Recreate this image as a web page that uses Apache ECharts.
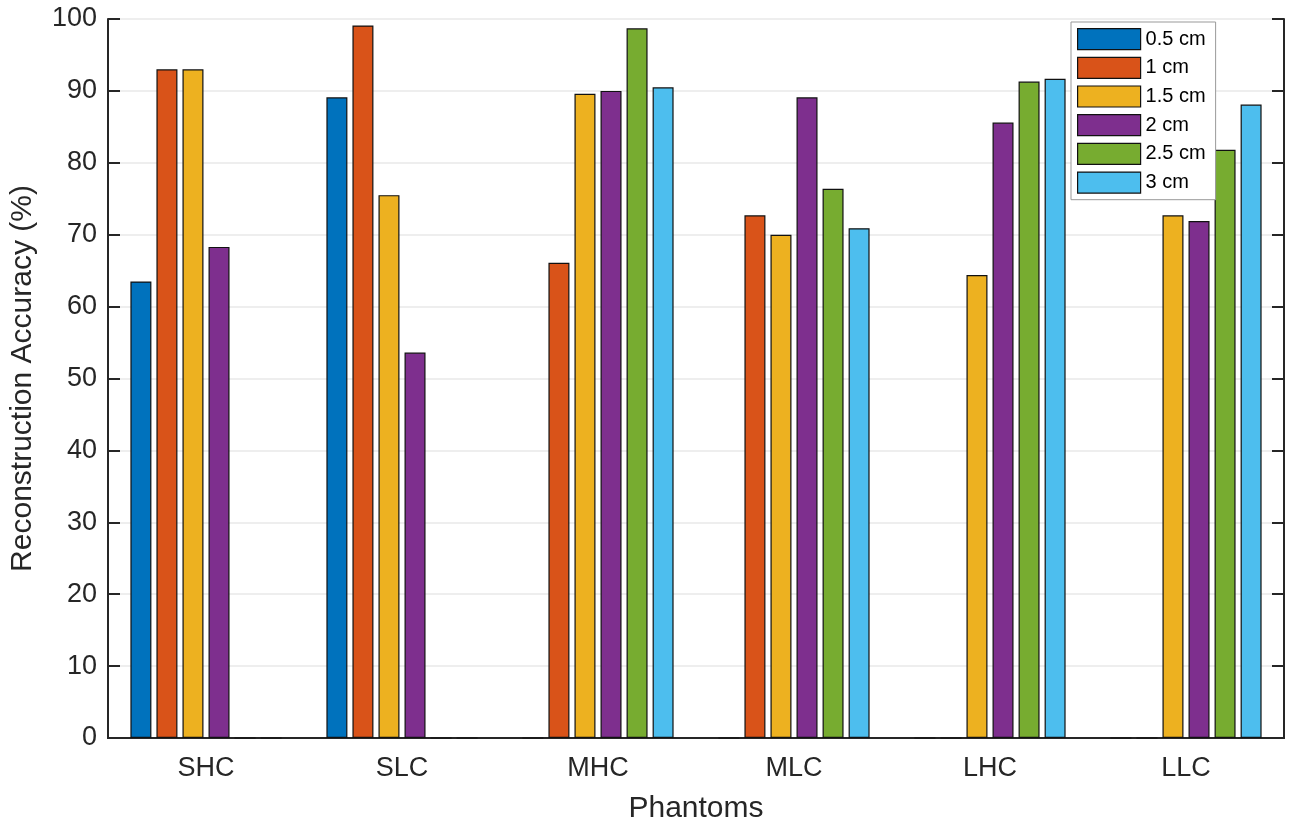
<!DOCTYPE html>
<html>
<head>
<meta charset="utf-8">
<script src="https://cdn.jsdelivr.net/npm/echarts@6/dist/echarts.min.js"></script>
<style>html,body{margin:0;padding:0;background:#fff;}#c{width:1290px;height:825px;}</style>
</head>
<body>
<div id="c"></div>
<script>
var categories = ['SHC', 'SLC', 'MHC', 'MLC', 'LHC', 'LLC'];
var seriesNames = ['0.5 cm', '1 cm', '1.5 cm', '2 cm', '2.5 cm', '3 cm'];
var s05 = [63.5, 89.1, 0, 0, 0, 0];
var s10 = [93.0, 99.1, 66.1, 72.7, 0, 0];
var s15 = [93.0, 75.5, 89.6, 70.0, 64.4, 72.7];
var s20 = [68.3, 53.6, 90.0, 89.1, 85.6, 71.9];
var s25 = [0, 0, 98.7, 76.4, 91.3, 81.8];
var s30 = [0, 0, 90.5, 70.9, 91.7, 88.1];
var yTicks = [0, 10, 20, 30, 40, 50, 60, 70, 80, 90, 100];

var colors = ['#0072BD', '#D95319', '#EDB120', '#7E2F8E', '#77AC30', '#4DBEEE'];
var allData = [s05, s10, s15, s20, s25, s30];
var txt = '#262626';
var font = 'Liberation Sans, Arial, sans-serif';

var series = allData.map(function (d, i) {
  return {
    name: seriesNames[i],
    type: 'bar',
    data: d,
    barWidth: 21,
    barGap: '24%',
    itemStyle: { color: colors[i], borderColor: '#111', borderWidth: 1.2 },
    emphasis: { disabled: true }
  };
});

var chart = echarts.init(document.getElementById('c'), null, { renderer: 'canvas' });
chart.setOption({
  animation: false,
  backgroundColor: '#fff',
  textStyle: { fontFamily: font },
  grid: { left: 108, top: 19, right: 6, bottom: 87, containLabel: false, outerBoundsMode: 'none' },
  legend: {
    orient: 'vertical',
    left: 1071, top: 22,
    padding: [6, 10, 6, 6],
    icon: 'rect',
    itemWidth: 63, itemHeight: 21, itemGap: 6.5,
    backgroundColor: '#fff',
    borderColor: '#999', borderWidth: 1,
    textStyle: { fontSize: 20, color: '#000', fontFamily: font },
    itemStyle: { borderColor: '#111', borderWidth: 1.2 },
    data: seriesNames
  },
  xAxis: [{
    type: 'category',
    data: categories,
    position: 'bottom',
    name: 'Phantoms',
    nameLocation: 'middle',
    nameGap: 56,
    nameTextStyle: { fontSize: 30, color: txt, fontFamily: font },
    axisLine: { lineStyle: { color: txt, width: 2 } },
    axisTick: { inside: true, alignWithLabel: true, length: 12, lineStyle: { color: txt, width: 2 } },
    axisLabel: { fontSize: 27, color: txt, margin: 17, fontFamily: font },
    splitLine: { show: false }
  }, {
    type: 'category',
    data: categories,
    position: 'top',
    axisLine: { lineStyle: { color: txt, width: 2 } },
    axisTick: { inside: true, alignWithLabel: true, length: 12, lineStyle: { color: txt, width: 2 } },
    axisLabel: { show: false }
  }],
  yAxis: [{
    type: 'value',
    min: yTicks[0], max: yTicks[yTicks.length - 1], interval: 10,
    name: 'Reconstruction Accuracy (%)',
    nameLocation: 'middle',
    nameGap: 70,
    nameTextStyle: { fontSize: 30, color: txt, fontFamily: font },
    axisLine: { show: true, lineStyle: { color: txt, width: 2 } },
    axisTick: { show: true, inside: true, length: 12, lineStyle: { color: txt, width: 2 } },
    axisLabel: { fontSize: 27, color: txt, margin: 11, fontFamily: font },
    splitLine: { show: true, lineStyle: { color: '#e8e8e8', width: 1.5 } }
  }, {
    type: 'value',
    min: yTicks[0], max: yTicks[yTicks.length - 1], interval: 10,
    position: 'right',
    axisLine: { show: true, lineStyle: { color: txt, width: 2 } },
    axisTick: { show: true, inside: true, length: 12, lineStyle: { color: txt, width: 2 } },
    axisLabel: { show: false },
    splitLine: { show: false }
  }],
  series: series
});
</script>
</body>
</html>
